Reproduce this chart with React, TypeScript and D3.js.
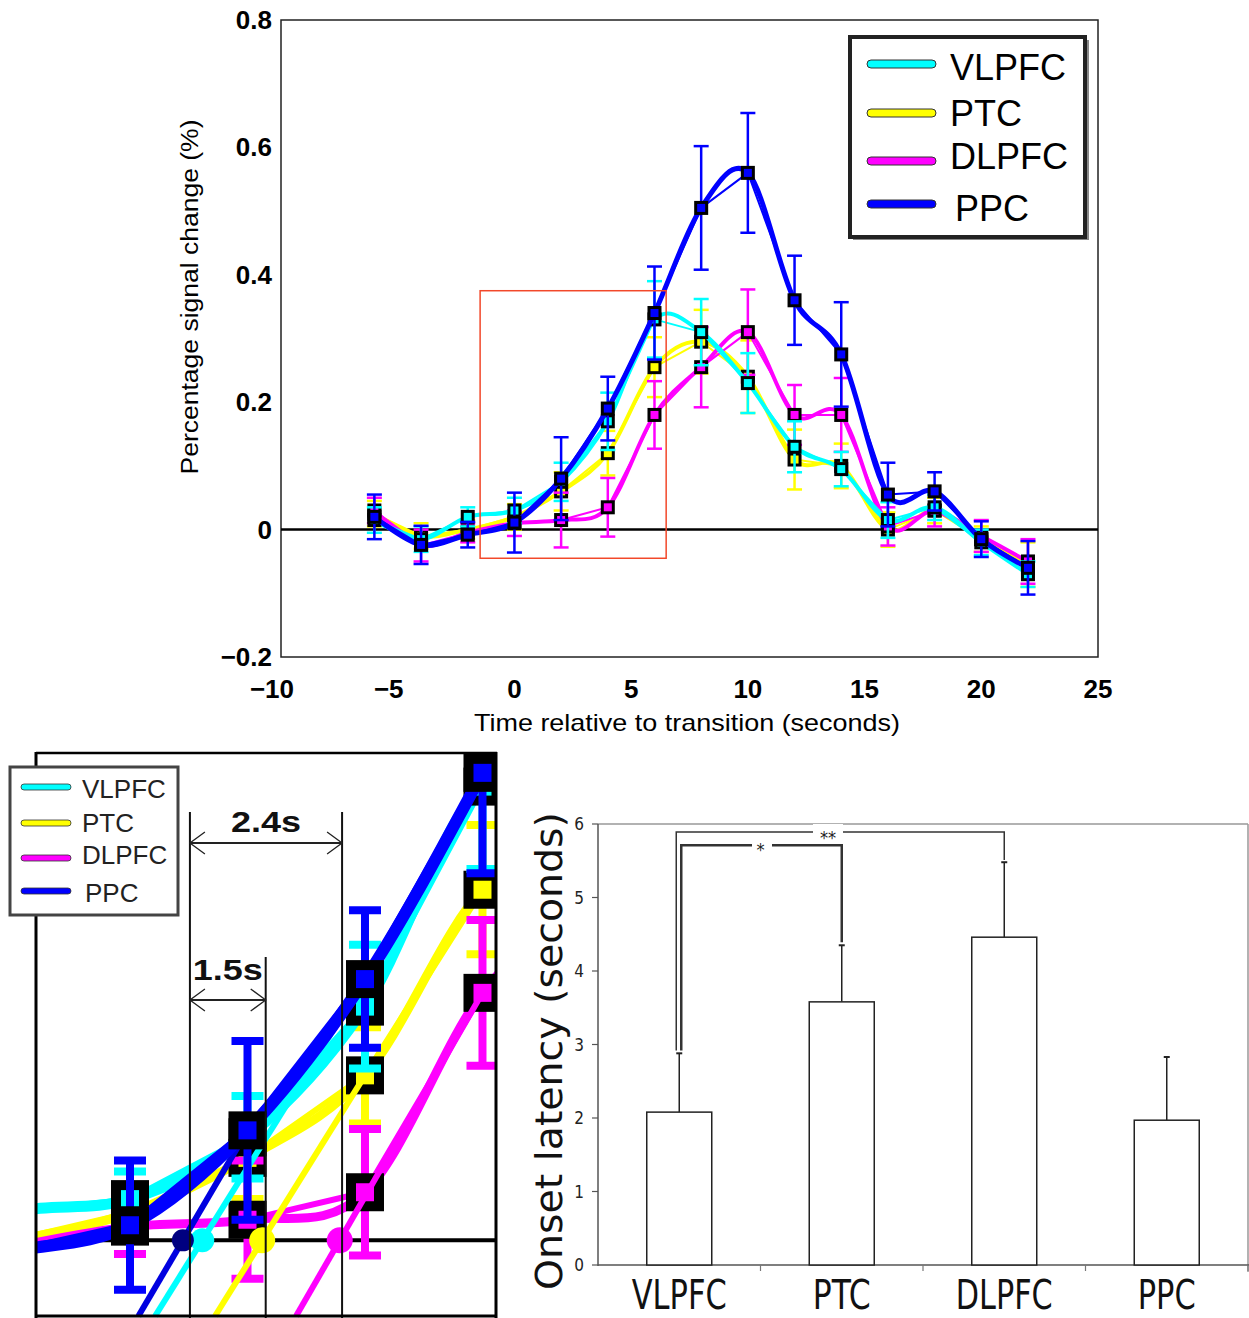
import React from 'react';
import * as d3 from 'd3';

// ---------- data: time courses ----------
const times = [-6, -4, -2, 0, 2, 4, 6, 8, 10, 12, 14, 16, 18, 20, 22];
const vlpfc = [0.015, -0.015, 0.02, 0.03, 0.075, 0.17, 0.33, 0.31, 0.23, 0.13, 0.095, 0.015, 0.035, -0.02, -0.07];
const ptc = [0.025, -0.01, 0.0, 0.02, 0.06, 0.12, 0.255, 0.295, 0.24, 0.11, 0.1, 0.0, 0.03, -0.015, -0.055];
const dlpfc = [0.03, -0.025, -0.005, 0.01, 0.015, 0.035, 0.18, 0.255, 0.31, 0.18, 0.18, 0.005, 0.03, -0.01, -0.05];
const ppc = [0.02, -0.024, -0.008, 0.011, 0.08, 0.19, 0.34, 0.505, 0.56, 0.36, 0.275, 0.055, 0.06, -0.015, -0.06];
const vlpfcErr = [0.02, 0.02, 0.015, 0.02, 0.03, 0.045, 0.06, 0.052, 0.047, 0.04, 0.027, 0.028, 0.02, 0.02, 0.02];
const ptcErr = [0.02, 0.02, 0.015, 0.02, 0.03, 0.035, 0.047, 0.05, 0.057, 0.047, 0.035, 0.027, 0.02, 0.02, 0.035];
const dlpfcErr = [0.02, 0.025, 0.015, 0.02, 0.043, 0.046, 0.053, 0.063, 0.067, 0.047, 0.058, 0.03, 0.025, 0.025, 0.035];
const ppcErr = [0.035, 0.03, 0.02, 0.047, 0.065, 0.05, 0.073, 0.097, 0.094, 0.07, 0.082, 0.05, 0.03, 0.028, 0.042];

const seriesNames = ['VLPFC', 'PTC', 'DLPFC', 'PPC'];
const seriesColors = ['#00FFFF', '#FFFF00', '#FF00FF', '#0000FF'];
const drawOrder = [1, 2, 0, 3];

const xTicks = [-10, -5, 0, 5, 10, 15, 20, 25];
const yTicks = [-0.2, 0, 0.2, 0.4, 0.6, 0.8];

// zoom box (data units) shown in the inset
const zoomX = [-1.47, 6.5];
const zoomY = [-0.045, 0.375];

// ---------- inset onset annotation ----------
const onsetIntercept = [1.23, 2.25, 3.57, 0.9];
const onsetEndX = [4, 4, 6, 2];
const onsetEndY = [0.19, 0.12, 0.18, 0.08];
const onsetDotColors = ['#00FFFF', '#FFFF00', '#FF00FF', '#000080'];
const dimTimes = [1.02, 2.31, 3.61];
const dimLabels = ['1.5s', '2.4s'];

// ---------- bar chart ----------
const regions = ['VLPFC', 'PTC', 'DLPFC', 'PPC'];
const onsetMean = [2.08, 3.58, 4.46, 1.97];
const onsetSem = [0.8, 0.77, 1.02, 0.86];
const barTicks = [0, 1, 2, 3, 4, 5, 6];

const values = [vlpfc, ptc, dlpfc, ppc];
const errors = [vlpfcErr, ptcErr, dlpfcErr, ppcErr];

const W = 1249;
const H = 1318;

type Sc = d3.ScaleLinear<number, number>;

function Series({ sx, sy, idx, smoothW, linW, errW, capW, mk, mkIn }: any) {
  const pts: [number, number][] = times.map((t, i) => [t, values[idx][i]]);
  const smooth = d3.line<[number, number]>().x(d => sx(d[0])).y(d => sy(d[1])).curve(d3.curveCatmullRom.alpha(0));
  const lin = d3.line<[number, number]>().x(d => sx(d[0])).y(d => sy(d[1]));
  const c = seriesColors[idx];
  return (
    <g>
      <path d={lin(pts) || ''} fill="none" stroke={c} strokeWidth={linW} strokeLinejoin="round" />
      <path d={smooth(pts) || ''} fill="none" stroke={c} strokeWidth={smoothW} strokeLinejoin="round" strokeLinecap="round" />
      {pts.map((p, i) => {
        const e = errors[idx][i];
        const x = sx(p[0]);
        return (
          <g key={i}>
            <line x1={x} x2={x} y1={sy(p[1] - e)} y2={sy(p[1] + e)} stroke={c} strokeWidth={errW} />
            <line x1={x - capW / 2} x2={x + capW / 2} y1={sy(p[1] + e)} y2={sy(p[1] + e)} stroke={c} strokeWidth={errW} />
            <line x1={x - capW / 2} x2={x + capW / 2} y1={sy(p[1] - e)} y2={sy(p[1] - e)} stroke={c} strokeWidth={errW} />
          </g>
        );
      })}
      {pts.map((p, i) => (
        <g key={'m' + i}>
          <rect x={sx(p[0]) - mk / 2} y={sy(p[1]) - mk / 2} width={mk} height={mk} fill="#000" />
          <rect x={sx(p[0]) - mkIn / 2} y={sy(p[1]) - mkIn / 2} width={mkIn} height={mkIn} fill={c} />
        </g>
      ))}
    </g>
  );
}

function TopChart() {
  const x: Sc = d3.scaleLinear().domain([-10, 25]).range([281, 1098]);
  const y: Sc = d3.scaleLinear().domain([-0.2, 0.8]).range([657, 20]);
  const font = 'Liberation Sans, Arial, sans-serif';
  return (
    <g>
      <rect x={281} y={20} width={817} height={637} fill="#fff" stroke="#222" strokeWidth={1.5} />
      <line x1={x(-10)} x2={x(25)} y1={y(0)} y2={y(0)} stroke="#000" strokeWidth={2.5} />
      {drawOrder.map(i => (
        <Series key={i} sx={x} sy={y} idx={i} smoothW={i === 3 ? 5 : 4} linW={2} errW={2.5} capW={15} mk={14} mkIn={8} />
      ))}
      <rect x={x(zoomX[0])} y={y(zoomY[1])} width={x(zoomX[1]) - x(zoomX[0])} height={y(zoomY[0]) - y(zoomY[1])}
        fill="none" stroke="#f2482a" strokeWidth={1.5} />
      {yTicks.map(t => (
        <text key={t} x={272} y={y(t)} textAnchor="end" dominantBaseline="central" fontFamily={font} fontWeight="bold" fontSize={26}>
          {t === 0 ? '0' : (t < 0 ? '\u2212' : '') + Math.abs(t).toFixed(1)}
        </text>
      ))}
      {xTicks.map(t => (
        <text key={t} x={x(t) - (t < 0 ? 9 : 0)} y={689} textAnchor="middle" dominantBaseline="central" fontFamily={font} fontWeight="bold" fontSize={26}>
          {(t < 0 ? '\u2212' : '') + Math.abs(t)}
        </text>
      ))}
      <text x={687} y={722} textAnchor="middle" dominantBaseline="central" fontFamily={font} fontSize={24} textLength={426} lengthAdjust="spacingAndGlyphs">
        Time relative to transition (seconds)
      </text>
      <text transform="translate(190,297) rotate(-90)" textAnchor="middle" dominantBaseline="central" fontFamily={font} fontSize={23} textLength={355} lengthAdjust="spacingAndGlyphs">
        Percentage signal change (%)
      </text>
      {/* legend */}
      <rect x={853} y={40} width={236} height={200} fill="#888" />
      <rect x={850} y={37} width={235} height={200} fill="#fff" stroke="#222" strokeWidth={4} />
      {seriesNames.map((n, i) => {
        const ly = [64, 113, 161, 204][i];
        const ty = [67, 113, 156, 208][i];
        return (
          <g key={n}>
            <rect x={867} y={ly - 4} width={69} height={8} rx={4} fill={seriesColors[i]} stroke="#333" strokeWidth={1} />
            <text x={i === 3 ? 955 : 950} y={ty} dominantBaseline="central" fontFamily={font} fontSize={36}>{n}</text>
          </g>
        );
      })}
    </g>
  );
}

function Arrow({ x1, x2, y }: any) {
  return (
    <g stroke="#222" strokeWidth={2} fill="none">
      <line x1={x1} x2={x2} y1={y} y2={y} />
      <polyline points={`${x1 + 15},${y - 11} ${x1},${y} ${x1 + 15},${y + 11}`} strokeWidth={1.3} />
      <polyline points={`${x2 - 15},${y - 11} ${x2},${y} ${x2 - 15},${y + 11}`} strokeWidth={1.3} />
    </g>
  );
}

function Inset() {
  const x: Sc = d3.scaleLinear().domain([-1.6, 6.23]).range([36, 496]);
  const y: Sc = d3.scaleLinear().domain([-0.055, 0.354]).range([1316, 753.6]);
  const font = 'Liberation Sans, Arial, sans-serif';
  const bottomY = -0.055;
  return (
    <g>
      <defs>
        <clipPath id="insetClip"><rect x={36} y={753} width={460} height={565} /></clipPath>
      </defs>
      <g clipPath="url(#insetClip)">
        <rect x={36} y={753} width={460} height={565} fill="#fff" />
        <line x1={36} x2={496} y1={y(0)} y2={y(0)} stroke="#000" strokeWidth={4} />
        {[1, 2, 0].map(i => (
          <Series key={i} sx={x} sy={y} idx={i} smoothW={i === 0 ? 11 : 9} linW={6} errW={8} capW={32} mk={38} mkIn={18} />
        ))}
        {[0, 1, 2, 3].map(i => {
          const slope = onsetEndY[i] / (onsetEndX[i] - onsetIntercept[i]);
          const xb = onsetIntercept[i] + bottomY / slope;
          return (
            <line key={'e' + i} x1={x(xb)} y1={y(bottomY)} x2={x(onsetEndX[i])} y2={y(onsetEndY[i])}
              stroke={i === 3 ? '#0000E0' : seriesColors[i]} strokeWidth={6} />
          );
        })}
        <Series sx={x} sy={y} idx={3} smoothW={12} linW={7} errW={8} capW={32} mk={38} mkIn={18} />
        {[0, 1, 2, 3].map(i => (
          <circle key={'c' + i} cx={x(onsetIntercept[i])} cy={y(0)} r={i === 3 ? 11 : i === 0 ? 12 : 13} fill={onsetDotColors[i]} />
        ))}
        {dimTimes.map((t, i) => (
          <line key={'d' + i} x1={x(t)} x2={x(t)} y1={i === 1 ? 957 : 812} y2={1318} stroke="#111" strokeWidth={2} />
        ))}
      </g>
      <Arrow x1={x(dimTimes[0])} x2={x(dimTimes[2])} y={843} />
      <Arrow x1={x(dimTimes[0])} x2={x(dimTimes[1])} y={1000} />
      <text x={(x(dimTimes[0]) + x(dimTimes[2])) / 2} y={821} textAnchor="middle" dominantBaseline="central" fontFamily={font} fontWeight="bold" fontSize={30} textLength={70} lengthAdjust="spacingAndGlyphs" fill="#111">{dimLabels[1]}</text>
      <text x={(x(dimTimes[0]) + x(dimTimes[1])) / 2} y={969} textAnchor="middle" dominantBaseline="central" fontFamily={font} fontWeight="bold" fontSize={30} textLength={70} lengthAdjust="spacingAndGlyphs" fill="#111">{dimLabels[0]}</text>
      {/* frame */}
      <line x1={36} x2={497} y1={753} y2={753} stroke="#000" strokeWidth={2.5} />
      <line x1={36} x2={36} y1={752} y2={1318} stroke="#000" strokeWidth={3} />
      <line x1={496} x2={496} y1={752} y2={1318} stroke="#000" strokeWidth={3} />
      <line x1={36} x2={497} y1={1316} y2={1316} stroke="#000" strokeWidth={3} />
      {/* legend */}
      <rect x={10} y={767} width={168} height={148} fill="#fff" stroke="#444" strokeWidth={3} />
      {seriesNames.map((n, i) => {
        const ly = [787, 823, 858, 891][i];
        const ty = [789, 823, 855, 893][i];
        return (
          <g key={n}>
            <rect x={21} y={ly - 3} width={50} height={6} rx={3} fill={seriesColors[i]} stroke="#333" strokeWidth={0.8} />
            <text x={i === 3 ? 85 : 82} y={ty} dominantBaseline="central" fontFamily={font} fontSize={26} fill="#222">{n}</text>
          </g>
        );
      })}
    </g>
  );
}

function BarChart() {
  const xb = d3.scaleBand<string>().domain(regions).range([598, 1248]).paddingInner(0.6).paddingOuter(0.3);
  const yb: Sc = d3.scaleLinear().domain([0, 6]).range([1265, 824]);
  const font = 'DejaVu Sans Condensed, DejaVu Sans, sans-serif';
  const cx = (r: string) => (xb(r) as number) + xb.bandwidth() / 2;
  const step = xb.step();
  const tickXs = regions.map((r, i) => 598 + (i + 1) * 162.5);
  const legY = 2.92;
  return (
    <g>
      <line x1={598} x2={1248} y1={824} y2={824} stroke="#999" strokeWidth={1.5} />
      <line x1={1248} x2={1248} y1={824} y2={1272} stroke="#999" strokeWidth={1.5} />
      <line x1={598} x2={598} y1={824} y2={1266} stroke="#555" strokeWidth={1.5} />
      <line x1={598} x2={1249} y1={1265} y2={1265} stroke="#555" strokeWidth={1.5} />
      {barTicks.map(t => (
        <g key={t}>
          <line x1={592} x2={598} y1={yb(t)} y2={yb(t)} stroke="#555" strokeWidth={1.2} />
          <text x={584} y={yb(t)} textAnchor="end" dominantBaseline="central" fontFamily={font} fontSize={17} fill="#222">{t}</text>
        </g>
      ))}
      {tickXs.map((tx, i) => (
        <line key={i} x1={tx} x2={tx} y1={1265} y2={1271} stroke="#777" strokeWidth={1.2} />
      ))}
      {regions.map((r, i) => (
        <g key={r}>
          <line x1={cx(r)} x2={cx(r)} y1={yb(onsetMean[i])} y2={yb(onsetMean[i] + onsetSem[i])} stroke="#222" strokeWidth={1.5} />
          <line x1={cx(r) - 3} x2={cx(r) + 3} y1={yb(onsetMean[i] + onsetSem[i])} y2={yb(onsetMean[i] + onsetSem[i])} stroke="#222" strokeWidth={2} />
          <rect x={xb(r)} y={yb(onsetMean[i])} width={xb.bandwidth()} height={yb(0) - yb(onsetMean[i])} fill="#fff" stroke="#222" strokeWidth={1.5} />
          <text x={cx(r)} y={1295} textAnchor="middle" dominantBaseline="central" fontFamily={font} fontSize={40}
            textLength={[95, 58, 97, 58][i]} lengthAdjust="spacingAndGlyphs" fill="#111">{r}</text>
        </g>
      ))}
      {/* significance brackets */}
      <path d={`M${cx('VLPFC') + 2},${yb(legY)} V${yb(5.71)} H${cx('PTC')} V${yb(4.39)}`} fill="none" stroke="#333" strokeWidth={2.5} />
      <path d={`M${cx('VLPFC') - 3},${yb(legY)} V${yb(5.89)} H${cx('DLPFC')} V${yb(5.51)}`} fill="none" stroke="#333" strokeWidth={1.5} />
      <rect x={752} y={836} width={20} height={18} fill="#fff" />
      <text x={(cx('VLPFC') + cx('PTC')) / 2} y={849} textAnchor="middle" dominantBaseline="central" fontFamily={font} fontSize={18} fill="#222">*</text>
      <rect x={813} y={824} width={30} height={16} fill="#fff" />
      <text x={828} y={837} textAnchor="middle" dominantBaseline="central" fontFamily={font} fontSize={18} fill="#222">**</text>
      <text transform="translate(549,1051) rotate(-90)" textAnchor="middle" dominantBaseline="central" fontFamily={font} fontSize={38}
        textLength={478} lengthAdjust="spacingAndGlyphs" fill="#111">Onset latency (seconds)</text>
    </g>
  );
}

export default function App() {
  return (
    <svg width={W} height={H} viewBox={`0 0 ${W} ${H}`} style={{ position: 'absolute', left: 0, top: 0, background: '#fff' }}>
      <rect width={W} height={H} fill="#fff" />
      <TopChart />
      <Inset />
      <BarChart />
    </svg>
  );
}
